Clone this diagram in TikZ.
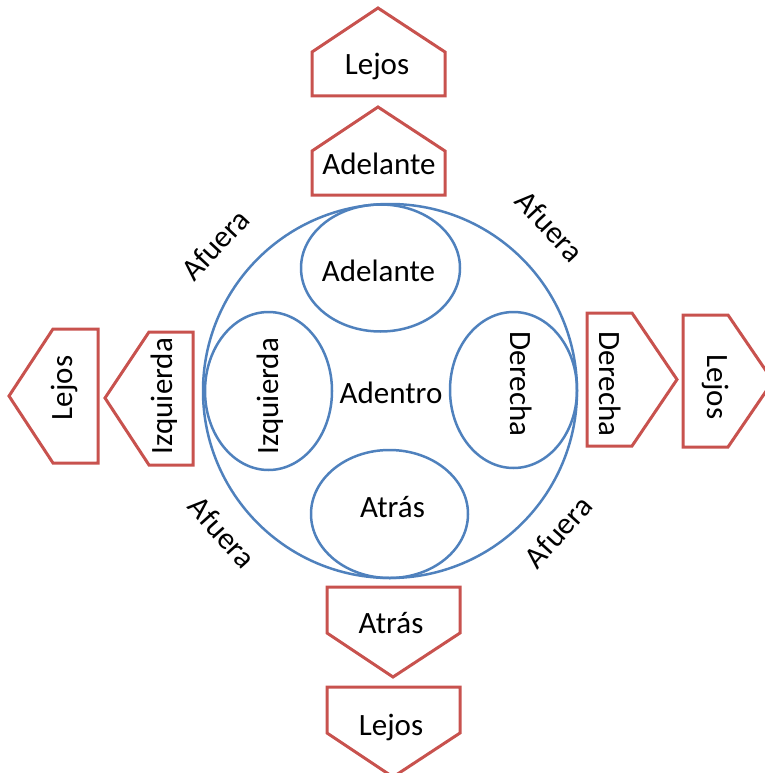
\documentclass[tikz,border=0pt]{standalone}
\usepackage{fontspec}
\setmainfont{Carlito}
\begin{document}
\begin{tikzpicture}[x=1pt,y=-1pt,
  redshape/.style={draw={rgb,255:red,200;green,82;blue,78}, line width=3pt, line join=miter},
  blueshape/.style={draw={rgb,255:red,79;green,129;blue,189}, line width=2.5pt},
  lbl/.style={inner sep=0pt, font=\fontsize{31}{35}\selectfont, anchor=base},
  afuera/.style={inner sep=0pt, font=\fontsize{31}{35}\selectfont, anchor=center}]
\useasboundingbox (0,0) rectangle (764,773);
% blue circle and ellipses
\draw[blueshape] (390,391) circle [radius=187];
\draw[blueshape] (380.5,268) ellipse [x radius=79.5, y radius=63.5];
\draw[blueshape] (268.5,391) ellipse [x radius=63.5, y radius=79];
\draw[blueshape] (513.5,390) ellipse [x radius=63.5, y radius=78];
\draw[blueshape] (389.5,514) ellipse [x radius=78.5, y radius=64];
% red pentagons top
\draw[redshape] (312,96) -- (312,52) -- (378,8) -- (445,52) -- (445,96) -- cycle;
\draw[redshape] (312,195) -- (312,151) -- (378,107) -- (445,151) -- (445,195) -- cycle;
% left
\draw[redshape] (98,329) -- (53,329) -- (9,396) -- (53,463) -- (98,463) -- cycle;
\draw[redshape] (193,332) -- (149,332) -- (105,398) -- (149,465) -- (193,465) -- cycle;
% right
\draw[redshape] (587,313) -- (632,313) -- (677,379.5) -- (632,446) -- (587,446) -- cycle;
\draw[redshape] (683,315) -- (728,315) -- (773,381) -- (728,447) -- (683,447) -- cycle;
% bottom
\draw[redshape] (327,587) -- (460,587) -- (460,633) -- (393,677) -- (327,633) -- cycle;
\draw[redshape] (327,687) -- (460,687) -- (460,733) -- (393,777) -- (327,733) -- cycle;
% texts
\node[lbl] (tlejos) at (377,75) {Lejos};
\node[lbl] (tadel) at (379,174) {Adelante};
\node[lbl] (eadel) at (378.5,281) {Adelante};
\node[lbl] (adentro) at (391,403) {Adentro};
\node[lbl] (eatras) at (392.5,517) {Atrás};
\node[lbl] (batras) at (391,633) {Atrás};
\node[lbl] (blejos) at (391,735) {Lejos};
\node[lbl, rotate=90] (llejos) at (72,388) {Lejos};
\node[lbl, rotate=90] (lizq) at (172,396) {Izquierda};
\node[lbl, rotate=90] (eizq) at (278,396) {Izquierda};
\node[lbl, rotate=-90] (eder) at (510,384) {Derecha};
\node[lbl, rotate=-90] (rder) at (599,384) {Derecha};
\node[lbl, rotate=-90] (rlejos) at (707,387) {Lejos};
\node[afuera, rotate=47] (a1) at (215,245) {Afuera};
\node[afuera, rotate=-47] (a2) at (550,226) {Afuera};
\node[afuera, rotate=-48] (a3) at (222,532) {Afuera};
\node[afuera, rotate=48] (a4) at (558,532) {Afuera};
\end{tikzpicture}
\end{document}
